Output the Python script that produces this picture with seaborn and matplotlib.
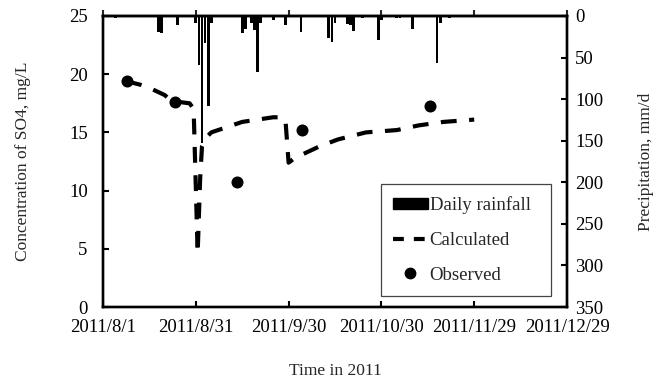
import matplotlib
matplotlib.use("Agg")
import matplotlib.pyplot as plt
import seaborn as sns
from matplotlib.patches import Rectangle
from matplotlib.lines import Line2D

# x positions are days since 2011/8/1
tick_days = [0, 30, 60, 90, 120, 150]
tick_labels = ["2011/8/1", "2011/8/31", "2011/9/30", "2011/10/30", "2011/11/29", "2011/12/29"]

rain_days = [4, 18, 19, 24, 30, 31, 32, 33, 34, 35, 45, 46, 48, 49, 50, 51, 55, 59,
             64, 73, 74, 75, 79, 80, 81, 84, 89, 90, 95, 96, 100, 108, 109, 112]
rain_mm = [2, 19, 21, 11, 8, 59, 153, 33, 108, 8, 20, 16, 8, 17, 67, 8, 5, 11,
           19, 27, 31, 9, 10, 11, 18, 3, 29, 5, 3, 3, 16, 57, 8, 3]

calc_days = [7.5, 12, 16, 20, 22, 28, 29.3, 30.6, 31.4, 32, 33.5, 35, 45, 55, 58, 59,
             60, 62, 66, 70, 76, 85, 95, 102, 110, 120]
calc_so4 = [19.4, 19.1, 18.7, 18.2, 17.7, 17.5, 17.0, 4.6, 11.0, 13.8, 14.6, 15.0, 15.9,
            16.3, 16.3, 16.0, 12.4, 12.8, 13.3, 13.8, 14.4, 15.0, 15.2, 15.6, 15.9, 16.1]

obs_days = [7.6, 23.3, 43.2, 64.3, 105.8]
obs_so4 = [19.4, 17.6, 10.7, 15.2, 17.3]

sns.set_theme(style="ticks")
plt.rcParams["font.family"] = ["Liberation Serif", "DejaVu Serif"]

fig = plt.figure(figsize=(6.56, 3.82), dpi=100)
ax = fig.add_axes([103 / 656, 1 - 307 / 382, 464 / 656, 291 / 382])
ax2 = ax.twinx()

ax2.bar(rain_days, rain_mm, width=0.9, color="black", linewidth=0)
ax2.set_ylim(350, 0)
ax2.set_yticks(range(0, 351, 50))

sns.lineplot(x=calc_days, y=calc_so4, ax=ax, color="black", linewidth=3.0,
             linestyle=(0, (3.8, 3.0)), zorder=3)
sns.scatterplot(x=obs_days, y=obs_so4, ax=ax, color="black", s=75,
                edgecolor="black", linewidth=0, zorder=4)

ax.set_xlim(0, 150)
ax.set_ylim(0, 25)
ax.set_xticks(tick_days)
ax.set_xticklabels(tick_labels)
ax.set_yticks(range(0, 26, 5))

for a in (ax, ax2):
    for s in a.spines.values():
        s.set_linewidth(1.7)
        s.set_color("black")

ax.tick_params(axis="both", direction="in", length=4, width=1.5, labelsize=13.5,
               colors="black")
ax.tick_params(axis="y", pad=11)
ax.tick_params(axis="x", pad=9)
ax2.tick_params(axis="y", direction="in", length=4, width=1.5, labelsize=13.5,
                pad=6, colors="black")

sec = ax.secondary_xaxis("top")
sec.set_xticks(tick_days)
sec.set_xticklabels([])
sec.tick_params(direction="out", length=4, width=1.5)
sec.spines["top"].set_linewidth(1.7)

ax.set_xlabel("Time in 2011", fontsize=12.5, labelpad=19)
ax.set_ylabel("Concentration of SO4, mg/L", fontsize=12.5, labelpad=27)
ax2.set_ylabel("Precipitation, mm/d", fontsize=12.5, labelpad=25)

handles = [
    Rectangle((0, 0), 1, 1, facecolor="black", edgecolor="black"),
    Line2D([], [], color="black", linewidth=3.0, linestyle=(0, (2.6, 2.4))),
    Line2D([], [], color="black", marker="o", markersize=7.5, linestyle="none"),
]
leg = ax2.legend(handles, ["Daily rainfall", "Calculated", "Observed"],
                 loc="lower left", bbox_to_anchor=(0.599, 0.038, 0.367, 0.374),
                 mode="expand", fontsize=13.5, frameon=True, fancybox=False,
                 edgecolor="#444444", framealpha=1, handlelength=1.85,
                 handletextpad=0.1, labelspacing=0.95, borderpad=0.65,
                 borderaxespad=0, handleheight=0.6)
leg.get_frame().set_linewidth(0.9)

fig.savefig("out.png", dpi=100)
